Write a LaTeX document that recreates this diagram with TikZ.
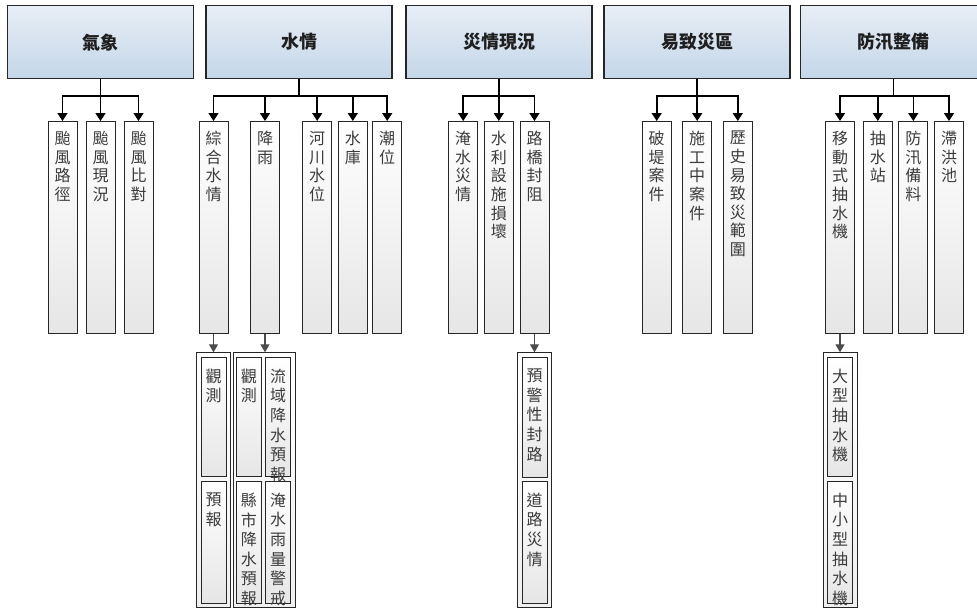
\documentclass[tikz,border=0pt]{standalone}
\usepackage{fontspec}
\newfontfamily\cjk{Noto Sans CJK TC}
\usetikzlibrary{arrows.meta}
\definecolor{hdtop}{HTML}{E8EEF6}
\definecolor{hdbot}{HTML}{C4D6E8}
\definecolor{lfbot}{HTML}{E6E6E6}
\definecolor{bord}{HTML}{262626}
\definecolor{txt}{HTML}{3C3C3C}
\tikzset{
  hdr/.style={draw=bord, line width=1.3pt, top color=hdtop, bottom color=hdbot,
    minimum width=186pt, minimum height=73pt, anchor=north, inner sep=0pt,
    font=\cjk\bfseries\fontsize{18}{20}\selectfont, text=black!88},
  leaf/.style={draw=bord, line width=1pt, top color=white, bottom color=lfbot,
    minimum width=29pt, minimum height=212pt, anchor=north, inner sep=0pt},
  inbox/.style={draw=bord, line width=1pt, top color=white, bottom color=lfbot,
    minimum width=25pt, anchor=north, inner sep=0pt},
  grp/.style={draw=bord, line width=1pt, top color=white, bottom color=black!6,
    anchor=north, inner sep=0pt},
  lt/.style={anchor=north, align=center, inner sep=0pt, text=txt,
    font=\cjk\fontsize{16}{18.6}\selectfont},
  lt2/.style={anchor=north, align=center, inner sep=0pt, text=txt,
    font=\cjk\fontsize{16}{19.6}\selectfont},
  arr/.style={line width=1.6pt, draw=black, -{Triangle[width=10pt,length=8pt]}},
  arrg/.style={line width=1.1pt, draw=black!70, -{Triangle[width=9pt,length=8pt]}}
}
\newcommand\leafbox[4]{%
  \node[leaf] (#1) at (#2,#3) {};
  \node[lt] (#1t) at ([yshift=-10pt]#1.north) {#4};}
\newcommand\inleaf[5]{% name, x, ytop, height, text
  \node[inbox, minimum height=#4pt] (#1) at (#2,#3) {};
  \node[lt2] (#1t) at ([yshift=-12pt]#1.north) {#5};}
\begin{document}
\begin{tikzpicture}[x=1pt,y=-1pt]
\useasboundingbox (0,0) rectangle (977,610);

% headers
\node[hdr] (h1) at (100.5,5) {氣象};
\node[hdr] (h2) at (299,5) {水情};
\node[hdr] (h3) at (499,5) {災情現況};
\node[hdr] (h4) at (697,5) {易致災區};
\node[hdr] (h5) at (893.5,5) {防汛整備};

% leaves
\leafbox{a1}{62.5}{121}{颱\\風\\路\\徑}
\leafbox{a2}{100.5}{121}{颱\\風\\現\\況}
\leafbox{a3}{138.5}{121}{颱\\風\\比\\對}

\leafbox{b1}{213.5}{121}{綜\\合\\水\\情}
\leafbox{b2}{265}{121}{降\\雨}
\leafbox{b3}{317.2}{121}{河\\川\\水\\位}
\leafbox{b4}{352.8}{121}{水\\庫}
\leafbox{b5}{387.2}{121}{潮\\位}

\leafbox{c1}{463.2}{121}{淹\\水\\災\\情}
\leafbox{c2}{498.8}{121}{水\\利\\設\\施\\損\\壞}
\leafbox{c3}{534.5}{121}{路\\橋\\封\\阻}

\leafbox{d1}{656.7}{121}{破\\堤\\案\\件}
\leafbox{d2}{697.2}{121}{施\\工\\中\\案\\件}
\leafbox{d3}{737.8}{121}{歷\\史\\易\\致\\災\\範\\圍}

\leafbox{e1}{840}{121}{移\\動\\式\\抽\\水\\機}
\leafbox{e2}{877.8}{121}{抽\\水\\站}
\leafbox{e3}{913.3}{121}{防\\汛\\備\\料}
\leafbox{e4}{949}{121}{滯\\洪\\池}

% connectors header -> leaves
\foreach \h/\l in {h1/a1,h1/a2,h1/a3,h2/b1,h2/b2,h2/b3,h2/b4,h2/b5,
                   h3/c1,h3/c2,h3/c3,h4/d1,h4/d2,h4/d3,
                   h5/e1,h5/e2,h5/e3,h5/e4}
  \draw[arr] (\h.south) -- ++(0,16.5) -| (\l.north);

% lower groups
\node[grp, minimum width=34pt, minimum height=254.4pt] (g1) at (213.7,352.3) {};
\node[grp, minimum width=61.7pt, minimum height=254.4pt] (g2) at (264.2,352.3) {};
\node[grp, minimum width=33.3pt, minimum height=255pt] (g3) at (534.4,352.3) {};
\node[grp, minimum width=34pt, minimum height=255pt] (g4) at (840.3,352.3) {};

\inleaf{g1a}{213.6}{356.7}{119}{觀\\測}
\inleaf{g1b}{213.6}{480.7}{122}{預\\報}

\inleaf{g2a}{248.8}{356.7}{119}{觀\\測}
\inleaf{g2b}{278.2}{356.7}{119}{流\\域\\降\\水\\預\\報}
\inleaf{g2c}{248.8}{480.7}{122}{縣\\市\\降\\水\\預\\報}
\inleaf{g2d}{278.2}{480.7}{122}{淹\\水\\雨\\量\\警\\戒}

\inleaf{g3a}{534.5}{356.7}{120}{預\\警\\性\\封\\路}
\inleaf{g3b}{534.5}{480.7}{122}{道\\路\\災\\情}

\inleaf{g4a}{840.2}{356.7}{119}{大\\型\\抽\\水\\機}
\inleaf{g4b}{840.2}{480.7}{122}{中\\小\\型\\抽\\水\\機}

% connectors leaves -> groups
\draw[arrg] (b1.south) -- (b1.south |- g1.north);
\draw[arrg] (b2.south) -- (b2.south |- g2.north);
\draw[arrg] (c3.south) -- (c3.south |- g3.north);
\draw[arrg] (e1.south) -- (e1.south |- g4.north);
\end{tikzpicture}
\end{document}
